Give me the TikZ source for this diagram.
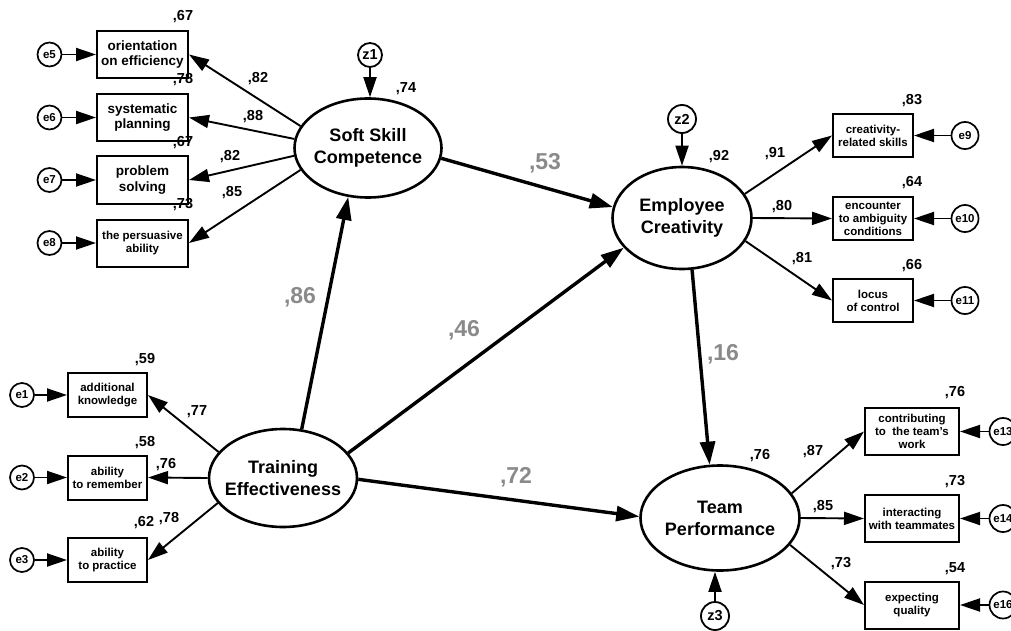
\documentclass[tikz,border=0pt]{standalone}
\usepackage{fontspec}
\setmainfont{Liberation Sans}
\usetikzlibrary{arrows.meta,shapes.geometric}
\definecolor{coefgray}{HTML}{8A8A8A}
\begin{document}
\begin{tikzpicture}[x=1pt,y=-1pt,
  lat/.style={ellipse, draw, line width=2.6pt, inner sep=0pt, fill=white},
  lattext/.style={align=center, inner sep=0pt, font=\fontsize{18}{22}\selectfont\bfseries},
  obsbig/.style={rectangle, draw, line width=2pt, minimum width=91pt, minimum height=47pt, inner sep=0pt, align=center, font=\fontsize{13.5}{15.7}\selectfont\bfseries},
  obs/.style={rectangle, draw, line width=2pt, inner sep=0pt, align=center, font=\fontsize{11.5}{13}\selectfont\bfseries},
  errc/.style={circle, draw, line width=1.7pt, inner sep=0pt, fill=white, font=\fontsize{11.5}{12}\selectfont\bfseries},
  zc/.style={circle, draw, line width=1.8pt, inner sep=0pt, fill=white, font=\fontsize{14.5}{15}\selectfont\bfseries},
  num/.style={font=\fontsize{14.5}{15}\selectfont\bfseries, inner sep=0pt},
  coef/.style={font=\fontsize{23}{24}\selectfont\bfseries, text=coefgray, inner sep=0pt},
  load/.style={line width=1.9pt, -{Triangle[length=20pt,width=13pt]}},
  strpath/.style={line width=3.4pt, -{Triangle[length=23pt,width=15pt]}}
]
\useasboundingbox (0,0) rectangle (1011,631);
\clip (0,0) rectangle (1011,631);
\fill[white] (0,0) rectangle (1011,631);

% latent variables
\node[lat, minimum width=147pt, minimum height=99pt] (SS) at (368,148) {};
\node[lat, minimum width=148pt, minimum height=98pt] (TE) at (283,478) {};
\node[lat, minimum width=139pt, minimum height=102pt] (EC) at (682,218) {};
\node[lat, minimum width=159pt, minimum height=105pt] (TP) at (720,518) {};
\node[lattext] (SSt) at (SS) {Soft Skill\\Competence};
\node[lattext] (TEt) at (TE) {Training\\Effectiveness};
\node[lattext] (ECt) at (EC) {Employee\\Creativity};
\node[lattext] (TPt) at (TP) {Team\\Performance};

% observed: soft skill
\node[obsbig] (o5) at (142.5,54.5) {orientation\\on efficiency};
\node[obsbig] (o6) at (142.5,117.5) {systematic\\planning};
\node[obsbig] (o7) at (142.5,180) {problem\\solving};
\node[obs, minimum width=91pt, minimum height=47pt] (o8) at (142.5,243) {the persuasive\\ability};
% observed: training
\node[obs, minimum width=79pt, minimum height=44pt] (o1) at (107.5,395) {additional\\knowledge};
\node[obs, minimum width=79pt, minimum height=44pt] (o2) at (107.5,477.5) {ability\\to remember};
\node[obs, minimum width=79pt, minimum height=44pt] (o3) at (107.5,560) {ability\\to practice};
% observed: creativity
\node[obs, minimum width=80pt, minimum height=43pt] (c1) at (873,135.5) {creativity-\\related skills};
\node[obs, minimum width=80pt, minimum height=43pt] (c2) at (873,218.5) {encounter\\to ambiguity\\conditions};
\node[obs, minimum width=80pt, minimum height=43pt] (c3) at (873,300.5) {locus\\of control};
% observed: team
\node[obs, minimum width=94pt, minimum height=47pt] (t1) at (912,431.5) {contributing\\to\ \ the team’s\\work};
\node[obs, minimum width=94pt, minimum height=47pt] (t2) at (912,518.5) {interacting\\with teammates};
\node[obs, minimum width=94pt, minimum height=47pt] (t3) at (912,605) {expecting\\quality};

% error terms
\node[errc, minimum size=24pt] (e5) at (49.5,54.5) {e5};
\node[errc, minimum size=24pt] (e6) at (49.5,117.5) {e6};
\node[errc, minimum size=24pt] (e7) at (49.5,180) {e7};
\node[errc, minimum size=24pt] (e8) at (49.5,243) {e8};
\node[errc, minimum size=24pt] (e1) at (22,395) {e1};
\node[errc, minimum size=24pt] (e2) at (22,477.5) {e2};
\node[errc, minimum size=24pt] (e3) at (22,560) {e3};
\node[errc, minimum size=27pt] (e9) at (965,135.5) {e9};
\node[errc, minimum size=27pt] (e10) at (965,218.5) {e10};
\node[errc, minimum size=27pt] (e11) at (965,300.5) {e11};
\node[errc, minimum size=27pt] (e13) at (1003,431.5) {e13};
\node[errc, minimum size=27pt] (e14) at (1003,518.5) {e14};
\node[errc, minimum size=27pt] (e16) at (1003,605) {e16};
\node[zc, minimum size=24pt] (z1) at (370,55) {z1};
\node[zc, minimum size=28pt] (z2) at (682,119) {z2};
\node[zc, minimum size=28pt] (z3) at (715,616) {z3};

% error arrows
\foreach \e/\o in {e5/o5,e6/o6,e7/o7,e8/o8,e1/o1,e2/o2,e3/o3}
  \draw[load] (\e) -- (\o.west);
\foreach \e/\o in {e9/c1,e10/c2,e11/c3,e13/t1,e14/t2,e16/t3}
  \draw[load] (\e) -- (\o.east);
\draw[load] (z1) -- (z1 |- SS.north);
\draw[load] (z2) -- (EC.north);
\draw[load] (z3) -- (z3 |- TP.south);

% loadings
\draw[load] (SS.162.8) -- (o5.east);
\draw[load] (SS.173.7) -- (o6.east);
\draw[load] (SS.186.8) -- (o7.east);
\draw[load] (SS.198.7) -- (o8.east);
\draw[load] (TE.158.5) -- (o1.east);
\draw[load] (TE.180) -- (o2.east);
\draw[load] (TE.201) -- (o3.east);
\draw[load] (EC.21) -- (c1.west);
\draw[load] (EC.0) -- (c2.west);
\draw[load] (EC.-20.9) -- (c3.west);
\draw[load] (TP.19.9) -- (t1.west);
\draw[load] (TP.0) -- (t2.west);
\draw[load] (TP.-21.9) -- (t3.west);

% structural paths
\draw[strpath] (TE.69) -- (SS.248);
\draw[strpath] (SS.-8.5) -- (EC.171.8);
\draw[strpath] (TE.21) -- (EC.207.3);
\draw[strpath] (TE.-1.5) -- (TP.179);
\draw[strpath] (EC.-79) -- (TP.101);

% coefficients (gray)
\node[coef] (k86) at (300,297) {,86};
\node[coef] (k46) at (464,330) {,46};
\node[coef] (k53) at (545,163) {,53};
\node[coef] (k16) at (723,354) {,16};
\node[coef] (k72) at (516,477) {,72};

% numbers
\node[num] (n1) at (183,17) {,67};
\node[num] (n2) at (183,80) {,78};
\node[num] (n3) at (183,143) {,67};
\node[num] (n4) at (183,205) {,73};
\node[num] (n5) at (258,79) {,82};
\node[num] (n6) at (253,117) {,88};
\node[num] (n7) at (230,157) {,82};
\node[num] (n8) at (232,193) {,85};
\node[num] (n9) at (406,89) {,74};
\node[num] (n10) at (145,360) {,59};
\node[num] (n11) at (145,443) {,58};
\node[num] (n12) at (144,523) {,62};
\node[num] (n13) at (169,519) {,78};
\node[num] (n14) at (197,412) {,77};
\node[num] (n15) at (166,465) {,76};
\node[num] (n16) at (719,157) {,92};
\node[num] (n17) at (775,154) {,91};
\node[num] (n18) at (782,207) {,80};
\node[num] (n19) at (802,259) {,81};
\node[num] (n20) at (912,101) {,83};
\node[num] (n21) at (912,183) {,64};
\node[num] (n22) at (912,266) {,66};
\node[num] (n23) at (760,456) {,76};
\node[num] (n24) at (813,452) {,87};
\node[num] (n25) at (823,507) {,85};
\node[num] (n26) at (841,564) {,73};
\node[num] (n27) at (955,393) {,76};
\node[num] (n28) at (955,482) {,73};
\node[num] (n29) at (955,569) {,54};
\end{tikzpicture}
\end{document}
